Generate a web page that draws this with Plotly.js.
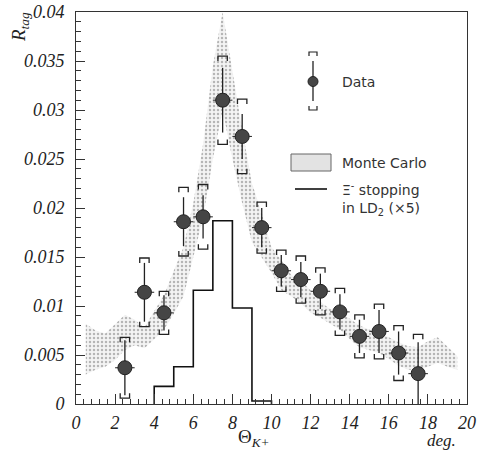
<!DOCTYPE html>
<html>
<head>
<meta charset="utf-8">
<script src="https://cdn.plot.ly/plotly-3.0.1.min.js"></script>
<style>html,body{margin:0;padding:0;background:#fff;}#chart{width:482px;height:455px;}</style>
</head>
<body>
<div id="chart"></div>
<script>
// ---- Data ----
const dataX = [2.5,3.5,4.5,5.5,6.5,7.5,8.5,9.5,10.5,11.5,12.5,13.5,14.5,15.5,16.5,17.5];
const dataY = [0.0037,0.0114,0.0093,0.0186,0.0191,0.0310,0.0273,0.0180,0.0136,0.0127,0.0115,0.0094,0.0069,0.0074,0.0052,0.0031];
const statErr = [0.0028,0.0030,0.0018,0.0025,0.0022,0.0033,0.0023,0.0020,0.0016,0.0018,0.0018,0.0018,0.0017,0.0022,0.0022,0.0032];
const sysErr = [0.0031,0.0035,0.0022,0.0035,0.0033,0.0045,0.0038,0.0026,0.0021,0.0024,0.0024,0.0024,0.0022,0.0028,0.0028,0.0040];

const mcX = [0.5,1,1.5,2,2.5,3,3.5,4,4.5,5,5.5,6,6.5,7,7.5,8,8.5,9,9.5,10,10.5,11,11.5,12,12.5,13,13.5,14,14.5,15,15.5,16,16.5,17,17.5,18,18.5,19,19.5];
const mcUpper = [0.0082,0.0075,0.0072,0.0082,0.0091,0.0086,0.0078,0.0095,0.0111,0.0136,0.0160,0.0205,0.0265,0.0345,0.0400,0.0340,0.0280,0.0225,0.0195,0.0160,0.0147,0.0132,0.0126,0.0116,0.0104,0.0097,0.0093,0.0087,0.0080,0.0076,0.0072,0.0068,0.0063,0.0059,0.0058,0.0064,0.0068,0.0058,0.0049];
const mcLower = [0.0030,0.0035,0.0038,0.0045,0.0055,0.0060,0.0057,0.0066,0.0076,0.0092,0.0110,0.0150,0.0190,0.0250,0.0300,0.0250,0.0205,0.0165,0.0150,0.0134,0.0116,0.0110,0.0103,0.0093,0.0088,0.0082,0.0076,0.0066,0.0058,0.0055,0.0052,0.0046,0.0039,0.0035,0.0035,0.0038,0.0042,0.0038,0.0035];

const histEdges = [4,5,6,7,8,9,10];
const histValues = [0.0018,0.0038,0.0116,0.0187,0.0098,0.0003];

const xTickVals = [0,2,4,6,8,10,12,14,16,18,20];
const yTickVals = [0,0.005,0.01,0.015,0.02,0.025,0.03,0.035,0.04];

// ---- Build traces ----
const mcTrace = {
  x: mcX.concat(mcX.slice().reverse()),
  y: mcUpper.concat(mcLower.slice().reverse()),
  type: 'scatter', mode: 'lines', fill: 'toself',
  fillcolor: 'rgba(225,225,225,0.5)',
  fillpattern: {shape: '.', fgcolor: '#b5b5b5', bgcolor: 'rgba(236,236,236,0.6)', size: 4, solidity: 0.3},
  line: {width: 0, color: 'rgba(0,0,0,0)'},
  hoverinfo: 'skip', showlegend: false
};

const hx = [histEdges[0]], hy = [0];
for (let i = 0; i < histValues.length; i++) { hx.push(histEdges[i]); hy.push(histValues[i]); }
hx.push(histEdges[histEdges.length-1]); hy.push(histValues[histValues.length-1]);
hx.push(histEdges[histEdges.length-1]); hy.push(0);
const histTrace = {
  x: hx, y: hy, type: 'scatter', mode: 'lines',
  line: {shape: 'hv', color: '#111', width: 1.6},
  hoverinfo: 'skip', showlegend: false
};

// systematic brackets
const bw = 0.24, bh = 0.0005;
const bx = [], by = [];
for (let i = 0; i < dataX.length; i++) {
  const x = dataX[i], top = dataY[i] + sysErr[i], bot = dataY[i] - sysErr[i];
  bx.push(x-bw, x-bw, x+bw, x+bw, null); by.push(top-bh, top, top, top-bh, null);
  bx.push(x-bw, x-bw, x+bw, x+bw, null); by.push(bot+bh, bot, bot, bot+bh, null);
}
const bracketTrace = {
  x: bx, y: by, type: 'scatter', mode: 'lines',
  line: {color: '#222', width: 1.3}, hoverinfo: 'skip', showlegend: false, connectgaps: false
};

const dataTrace = {
  x: dataX, y: dataY, type: 'scatter', mode: 'markers',
  marker: {size: 14, color: '#454545', line: {color: '#222', width: 1}},
  error_y: {type: 'data', array: statErr, visible: true, width: 0, thickness: 1.3, color: '#222'},
  error_x: {type: 'constant', value: 0.5, visible: true, width: 0, thickness: 1.1, color: '#333'},
  showlegend: false
};

// ---- Layout ----
const serif = 'Liberation Serif';
const sans = 'DejaVu Sans';
function px(p) { return (p - 76) / 391; }
function py(p) { return (404 - p) / 392; }
function ann(x, y, text, font, extra) {
  return Object.assign({xref: 'paper', yref: 'paper', x: px(x), y: py(y), text: text, showarrow: false,
    xanchor: 'center', yanchor: 'middle', font: font}, extra || {});
}

const layout = {
  width: 482, height: 455,
  margin: {l: 76, r: 15, t: 12, b: 51},
  paper_bgcolor: '#fff', plot_bgcolor: '#fff',
  font: {family: serif, size: 18, color: '#222'},
  showlegend: false,
  xaxis: {
    range: [0, 20], tickvals: xTickVals, ticktext: xTickVals.map(String),
    ticks: 'inside', ticklen: 10, tickwidth: 1, tickcolor: '#333',
    minor: {dtick: 0.4, ticks: 'inside', ticklen: 5, tickcolor: '#333', tickwidth: 1, showgrid: false},
    showline: true, linecolor: '#333', linewidth: 1, mirror: true,
    showgrid: false, zeroline: false,
    tickfont: {family: serif, size: 18, style: 'italic', color: '#222'},
    ticklabelstandoff: 2
  },
  yaxis: {
    range: [0, 0.04], tickvals: yTickVals, ticktext: yTickVals.map(v => v === 0 ? '0' : String(v)),
    ticks: 'inside', ticklen: 9, tickwidth: 1, tickcolor: '#333',
    minor: {dtick: 0.001, ticks: 'inside', ticklen: 5, tickcolor: '#333', tickwidth: 1, showgrid: false},
    showline: true, linecolor: '#333', linewidth: 1, mirror: true,
    showgrid: false, zeroline: false,
    tickfont: {family: serif, size: 18, style: 'italic', color: '#222'},
    ticklabelstandoff: 7
  },
  shapes: [
    // Data legend sample
    {type: 'line', xref: 'paper', yref: 'paper', x0: px(313), x1: px(313), y0: py(61), y1: py(101), line: {color: '#222', width: 1.3}},
    {type: 'path', xref: 'paper', yref: 'paper', path: `M ${px(309)} ${py(56)} L ${px(309)} ${py(52)} L ${px(317)} ${py(52)} L ${px(317)} ${py(56)}`, line: {color: '#222', width: 1.2}},
    {type: 'path', xref: 'paper', yref: 'paper', path: `M ${px(309)} ${py(106)} L ${px(309)} ${py(110)} L ${px(317)} ${py(110)} L ${px(317)} ${py(106)}`, line: {color: '#222', width: 1.2}},
    {type: 'circle', xref: 'paper', yref: 'paper', x0: px(308), x1: px(318), y0: py(76.5), y1: py(86.5), fillcolor: '#454545', line: {color: '#222', width: 1}},
    // Monte Carlo legend box
    {type: 'rect', xref: 'paper', yref: 'paper', x0: px(291), x1: px(331), y0: py(171), y1: py(154), fillcolor: 'rgba(220,220,220,0.8)', line: {color: '#666', width: 1}},
    // histogram legend line
    {type: 'line', xref: 'paper', yref: 'paper', x0: px(295), x1: px(327), y0: py(189), y1: py(189), line: {color: '#111', width: 1.6}}
  ],
  annotations: [
    ann(20, 27, '<i>R<sub>tag</sub></i>', {family: serif, size: 19, color: '#222'}, {textangle: -90}),
    ann(254, 438, 'Θ<sub><i>K+</i></sub>', {family: serif, size: 19, color: '#222'}),
    ann(441, 440, '<i>deg.</i>', {family: serif, size: 17, color: '#222'}),
    ann(340, 82, 'Data', {family: sans, size: 14, color: '#333'}, {xanchor: 'left'}),
    ann(340, 163, 'Monte Carlo', {family: sans, size: 14, color: '#333'}, {xanchor: 'left'}),
    ann(340, 189, 'Ξ<sup>-</sup> stopping', {family: sans, size: 14, color: '#333'}, {xanchor: 'left'}),
    ann(340, 209, 'in LD<sub>2</sub> (×5)', {family: sans, size: 14, color: '#333'}, {xanchor: 'left'})
  ]
};

Plotly.newPlot('chart', [mcTrace, histTrace, bracketTrace, dataTrace], layout, {displayModeBar: false, staticPlot: true});
</script>
</body>
</html>
